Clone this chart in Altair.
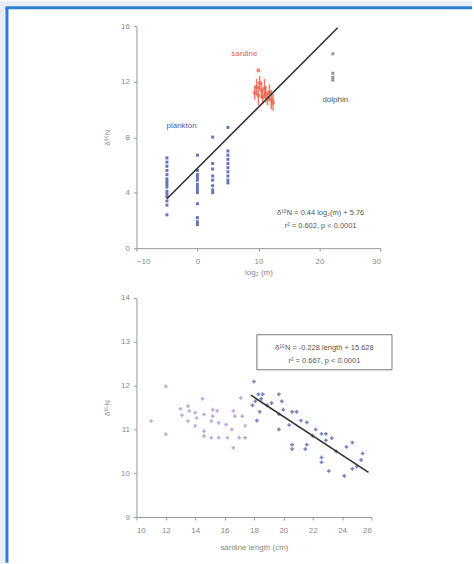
import altair as alt
import pandas as pd

# ---------------- top panel data ----------------
pk_x = [-5]*15 + [0]*13 + [2.5]*8 + [5]*10
pk_y = [6.5, 6.2, 5.9, 5.6, 5.3, 5.0, 4.8, 4.6, 4.4, 4.1, 3.9, 3.7, 3.4, 3.1, 2.4,
        6.7, 5.6, 5.3, 5.1, 4.9, 4.6, 4.4, 4.2, 4.0, 3.2, 2.2, 1.9, 1.7,
        8.0, 6.1, 5.7, 5.2, 4.9, 4.5, 4.2, 4.0,
        8.7, 7.0, 6.7, 6.4, 6.1, 5.8, 5.5, 5.2, 4.9, 4.7]
sd_x = [9.4, 9.7, 10.0, 10.2, 10.5, 10.7, 11.0, 11.2, 11.5, 11.8, 12.1, 12.4, 10.0]
sd_y = [11.2, 11.6, 11.0, 11.9, 11.4, 10.9, 11.5, 11.1, 10.8, 11.2, 10.7, 10.5, 12.8]
sd_e = [0.5, 0.6, 0.7, 0.5, 0.6, 0.5, 0.7, 0.6, 0.5, 0.6, 0.7, 0.6, 0.0]
dp_x = [22.2, 22.2, 22.2, 22.2]
dp_y = [14.0, 12.6, 12.3, 12.1]
fit1_x = [-5, 23]
fit1_y = [3.56, 15.88]
top_labels = ["plankton", "sardine", "dolphin"]
top_label_x = [-2.6, 7.7, 22.6]
top_label_y = [8.8, 14.0, 10.7]
top_label_col = ["#4a5cb0", "#e8604c", "#555555"]
eq1 = ["δ¹⁵N = 0.44 log₂(m) + 5.76", "r² = 0.602, p < 0.0001"]
eq1_x = [20.2, 20.2]
eq1_y = [2.55, 1.6]

# ---------------- bottom panel data ----------------
pink_L = [11.0, 12.0, 12.0, 13.0, 13.1, 13.5, 13.6, 13.5, 14.0, 14.1, 14.0, 14.5, 14.6, 14.6, 14.6,
          15.1, 15.1, 15.2, 15.2, 15.5, 15.6, 15.6, 16.1, 16.2, 16.5, 16.6, 16.6, 16.7, 17.1, 17.0,
          17.2, 17.4, 17.4]
pink_d = [11.19, 11.98, 10.89, 11.47, 11.32, 11.53, 11.42, 11.19, 11.38, 11.26, 11.08, 11.70, 11.34,
          10.96, 10.85, 11.19, 10.81, 11.45, 11.30, 11.42, 10.81, 11.15, 11.11, 10.81, 11.00, 11.42,
          10.58, 11.30, 11.72, 10.81, 11.30, 10.81, 11.08]
blue_L = [18.0, 18.1, 18.3, 18.6, 18.4, 18.2, 18.9, 19.2, 19.7, 19.9, 19.7, 20.0, 19.7, 20.6, 20.9,
          20.4, 20.6, 20.6, 21.2, 21.6, 21.5, 21.6, 22.2, 22.0, 22.6, 22.9, 22.9, 22.6, 22.6, 23.3,
          23.6, 23.1, 24.3, 24.7, 24.15, 24.7, 25.3, 25.4, 25.0, 17.9, 18.5]
blue_d = [12.09, 11.64, 11.80, 11.80, 11.40, 11.20, 11.55, 11.60, 11.80, 11.64, 11.35, 11.45, 11.00,
          11.40, 11.40, 11.10, 10.55, 10.65, 11.20, 11.16, 10.55, 10.65, 11.00, 10.85, 10.90, 10.90,
          10.75, 10.36, 10.25, 10.80, 10.50, 10.05, 10.60, 10.70, 9.94, 10.10, 10.30, 10.45, 10.15,
          11.55, 11.70]
fit2_x = [17.8, 25.8]
fit2_y = [11.78, 10.02]
eq2 = ["δ¹⁵N = -0.228 length + 15.628", "r² = 0.667, p < 0.0001"]
eq2_x = [22.8, 22.8]
eq2_y = [12.86, 12.57]
box2_x = [18.2]
box2_x2 = [27.4]
box2_y = [13.16]
box2_y2 = [12.36]

FONT = "Liberation Sans"
GRAY = "#888888"
EDGE = "#e8edf6"
BLUE_FRAME = "#2b7fd3"

# ---------------- top panel ----------------
xs1 = alt.Scale(domain=[-10, 30], nice=False)
ys1 = alt.Scale(domain=[0, 16], nice=False)
xa1 = alt.Axis(values=[-10, 0, 10, 20, 30], title="log₂ (m)", labelPadding=6, titlePadding=3,
               labelOverlap=False)
ya1 = alt.Axis(values=[0, 4, 8, 12, 16], title="δ¹⁵N", labelPadding=4, titlePadding=9,
               labelOverlap=False)

one = alt.Data(values=[{}])
# page frame: light strips on the left/top edge, blue border lines
strip_left = alt.Chart(one).mark_rect(fill=EDGE).encode(
    x=alt.value(-137), x2=alt.value(-131.5), y=alt.value(-25), y2=alt.value(539))
strip_top = alt.Chart(one).mark_rect(fill=EDGE).encode(
    x=alt.value(-137), x2=alt.value(337), y=alt.value(-25), y2=alt.value(-20))
frame_left = alt.Chart(one).mark_rule(color=BLUE_FRAME, strokeWidth=3).encode(
    x=alt.value(-130), y=alt.value(-18.5), y2=alt.value(539))
frame_top = alt.Chart(one).mark_rule(color=BLUE_FRAME, strokeWidth=3).encode(
    x=alt.value(-131.5), x2=alt.value(337), y=alt.value(-18.5))

pk_df = pd.DataFrame({"x": pk_x, "y": pk_y})
sd_df = pd.DataFrame({"x": sd_x, "y": sd_y, "e": sd_e})
sd_df["lo"] = sd_df["y"] - sd_df["e"]
sd_df["hi"] = sd_df["y"] + sd_df["e"]
dp_df = pd.DataFrame({"x": dp_x, "y": dp_y})
f1_df = pd.DataFrame({"x": fit1_x, "y": fit1_y})
lab_df = pd.DataFrame({"x": top_label_x, "y": top_label_y, "t": top_labels, "c": top_label_col})
eq1_df = pd.DataFrame({"x": eq1_x, "y": eq1_y, "t": eq1})

pk = alt.Chart(pk_df).mark_point(filled=True, shape="square", size=9, color="#4a5cb0", opacity=0.85).encode(
    x=alt.X("x:Q", scale=xs1, axis=xa1), y=alt.Y("y:Q", scale=ys1, axis=ya1))
sd_bar = alt.Chart(sd_df).mark_rule(color="#f07a66", strokeWidth=1.5).encode(
    x=alt.X("x:Q", scale=xs1, axis=xa1), y=alt.Y("lo:Q", scale=ys1, axis=ya1), y2="hi:Q")
sd = alt.Chart(sd_df).mark_point(filled=True, shape="square", size=14, color="#e8604c").encode(
    x=alt.X("x:Q", scale=xs1, axis=xa1), y=alt.Y("y:Q", scale=ys1, axis=ya1))
dp = alt.Chart(dp_df).mark_point(filled=True, shape="square", size=9, color="#666666").encode(
    x=alt.X("x:Q", scale=xs1, axis=xa1), y=alt.Y("y:Q", scale=ys1, axis=ya1))
f1 = alt.Chart(f1_df).mark_line(color="#333333", strokeWidth=1.6).encode(
    x=alt.X("x:Q", scale=xs1, axis=xa1), y=alt.Y("y:Q", scale=ys1, axis=ya1))
labs = alt.Chart(lab_df).mark_text(font=FONT, fontSize=8).encode(
    x=alt.X("x:Q", scale=xs1, axis=xa1), y=alt.Y("y:Q", scale=ys1, axis=ya1), text="t:N",
    color=alt.Color("c:N", scale=None))
eqt1 = alt.Chart(eq1_df).mark_text(font=FONT, fontSize=7.5, color="#555555").encode(
    x=alt.X("x:Q", scale=xs1, axis=xa1), y=alt.Y("y:Q", scale=ys1, axis=ya1), text="t:N")

top = alt.layer(strip_left, strip_top, frame_left, frame_top, pk, sd_bar, sd, dp, f1, labs, eqt1).properties(
    width=245, height=223)

# ---------------- bottom panel ----------------
xs2 = alt.Scale(domain=[10, 26], nice=False)
ys2 = alt.Scale(domain=[9, 14], nice=False)
xa2 = alt.Axis(values=[10, 12, 14, 16, 18, 20, 22, 24, 26], title="sardine length (cm)",
               labelPadding=7, titlePadding=9, labelOverlap=False)
ya2 = alt.Axis(values=[9, 10, 11, 12, 13, 14], title="δ¹⁵N", labelPadding=4, titlePadding=9,
               labelOverlap=False)

pink_df = pd.DataFrame({"x": pink_L, "y": pink_d})
blue_df = pd.DataFrame({"x": blue_L, "y": blue_d})
f2_df = pd.DataFrame({"x": fit2_x, "y": fit2_y})
eq2_df = pd.DataFrame({"x": eq2_x, "y": eq2_y, "t": eq2})
box_df = pd.DataFrame({"x": box2_x, "x2": box2_x2, "y": box2_y, "y2": box2_y2})

pink = alt.Chart(pink_df).mark_point(shape="cross", filled=True, size=14, color="#a985c9").encode(
    x=alt.X("x:Q", scale=xs2, axis=xa2), y=alt.Y("y:Q", scale=ys2, axis=ya2))
blue = alt.Chart(blue_df).mark_point(shape="cross", filled=True, size=14, color="#3d4f9f").encode(
    x=alt.X("x:Q", scale=xs2, axis=xa2), y=alt.Y("y:Q", scale=ys2, axis=ya2))
f2 = alt.Chart(f2_df).mark_line(color="#333333", strokeWidth=1.6).encode(
    x=alt.X("x:Q", scale=xs2, axis=xa2), y=alt.Y("y:Q", scale=ys2, axis=ya2))
box = alt.Chart(box_df).mark_rect(fill="white", stroke="#777777", strokeWidth=1).encode(
    x=alt.X("x:Q", scale=xs2, axis=xa2), x2="x2:Q", y=alt.Y("y:Q", scale=ys2, axis=ya2), y2="y2:Q")
eqt2 = alt.Chart(eq2_df).mark_text(font=FONT, fontSize=7.5, color="#555555").encode(
    x=alt.X("x:Q", scale=xs2, axis=xa2), y=alt.Y("y:Q", scale=ys2, axis=ya2), text="t:N")

bottom = alt.layer(pink, blue, f2, box, eqt2).properties(width=236, height=220)

chart = alt.vconcat(top, bottom, spacing=50, bounds="flush").properties(
    padding={"left": 0, "top": 0, "right": 0, "bottom": 0},
    background="white",
).configure_view(strokeWidth=0).configure_axis(
    grid=False, domainColor="#999999", tickColor="#999999", tickSize=3, labelOverlap=False,
    labelColor=GRAY, labelFont=FONT, labelFontSize=8,
    titleColor=GRAY, titleFont=FONT, titleFontSize=8, titleFontWeight="normal",
)

chart.save("out.html", embed_options={"renderer": "svg", "actions": False})
